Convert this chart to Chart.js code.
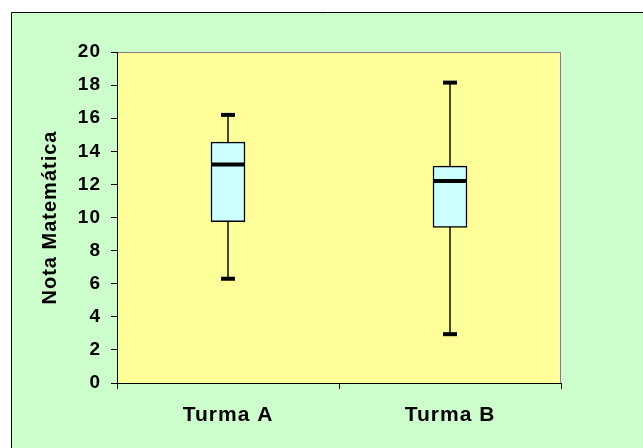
<!DOCTYPE html>
<html>
<head>
<meta charset="utf-8">
<script src="https://cdn.jsdelivr.net/npm/chart.js@4"></script>
<style>
html,body{margin:0;padding:0;background:#fff;}
canvas{display:block;}
</style>
</head>
<body>
<canvas id="c" width="643" height="448"></canvas>
<script>
const categories = ['Turma A', 'Turma B'];
const minValues = [6.3, 2.95];
const q1Values = [9.75, 9.4];
const medianValues = [13.2, 12.2];
const q3Values = [14.55, 13.1];
const maxValues = [16.2, 18.15];
const yTickMin = 0, yTickMax = 20, yTickStep = 2;
const yTitle = 'Nota Matemática';

const whiskerData = categories.map((c, i) => [minValues[i], maxValues[i]]);
const boxData = categories.map((c, i) => [q1Values[i], q3Values[i]]);

const decor = {
  id: 'decor',
  beforeLayout(chart) { chart.ctx.letterSpacing = '1px'; },
  beforeDraw(chart) {
    const ctx = chart.ctx;
    ctx.save();
    ctx.fillStyle = '#ffffff';
    ctx.fillRect(0, 0, chart.width, chart.height);
    ctx.fillStyle = '#CCFFCC';
    ctx.fillRect(11, 12, chart.width, chart.height);
    ctx.strokeStyle = '#000';
    ctx.lineWidth = 1;
    ctx.beginPath();
    ctx.moveTo(11.5, chart.height + 2);
    ctx.lineTo(11.5, 12.5);
    ctx.lineTo(chart.width + 2, 12.5);
    ctx.stroke();
    const a = chart.chartArea;
    ctx.fillStyle = '#FFFF99';
    ctx.fillRect(a.left, a.top, a.right - a.left, a.bottom - a.top);
    ctx.strokeStyle = '#808080';
    ctx.beginPath();
    ctx.moveTo(a.left, a.top + 0.5);
    ctx.lineTo(a.right - 0.5, a.top + 0.5);
    ctx.lineTo(a.right - 0.5, a.bottom);
    ctx.stroke();
    ctx.restore();
    ctx.letterSpacing = '1px';
  }
};

new Chart(document.getElementById('c'), {
  data: {
    labels: categories,
    datasets: [
      { type: 'line', label: 'Mediana', data: medianValues, showLine: false,
        pointStyle: 'line', pointRadius: 17, pointHoverRadius: 17,
        pointBorderWidth: 4, pointBorderColor: '#000', order: 0 },
      { type: 'line', label: 'Máximo', data: maxValues, showLine: false,
        pointStyle: 'line', pointRadius: 7, pointHoverRadius: 7,
        pointBorderWidth: 4, pointBorderColor: '#000', order: 0 },
      { type: 'line', label: 'Mínimo', data: minValues, showLine: false,
        pointStyle: 'line', pointRadius: 7, pointHoverRadius: 7,
        pointBorderWidth: 4, pointBorderColor: '#000', order: 0 },
      { type: 'bar', label: 'Caixa', data: boxData, barThickness: 34, grouped: false,
        backgroundColor: '#CCFFFF', borderColor: '#000', borderWidth: 1.5,
        borderSkipped: false, order: 1 },
      { type: 'bar', label: 'Bigodes', data: whiskerData, barThickness: 1, grouped: false,
        backgroundColor: '#222', borderWidth: 0, order: 2 }
    ]
  },
  options: {
    responsive: false,
    animation: false,
    events: [],
    layout: { padding: { left: 0, top: 52, right: 82, bottom: 0 } },
    font: { family: 'Liberation Sans' },
    plugins: { legend: { display: false }, tooltip: { enabled: false } },
    scales: {
      x: {
        type: 'category',
        offset: true,
        grid: { offset: true, drawOnChartArea: false, drawTicks: true, tickLength: 6, color: '#000' },
        border: { display: true, color: '#000', width: 1 },
        ticks: { color: '#000', padding: 14, maxRotation: 0,
          font: { family: 'Liberation Sans', size: 21, weight: 'bold' } },
        afterFit(s) { s.height = 65; }
      },
      y: {
        min: yTickMin, max: yTickMax,
        grid: { drawOnChartArea: false, drawTicks: true, tickLength: 6, color: '#000' },
        border: { display: true, color: '#000', width: 1 },
        ticks: { stepSize: yTickStep, color: '#000', padding: 10,
          font: { family: 'Liberation Sans', size: 19, weight: 'bold' } },
        title: { display: true, text: yTitle, color: '#000', padding: { top: 38, bottom: 0 },
          font: { family: 'Liberation Sans', size: 20, weight: 'bold' } },
        afterFit(s) { s.width = 117; }
      }
    }
  },
  plugins: [decor]
});
</script>
</body>
</html>
